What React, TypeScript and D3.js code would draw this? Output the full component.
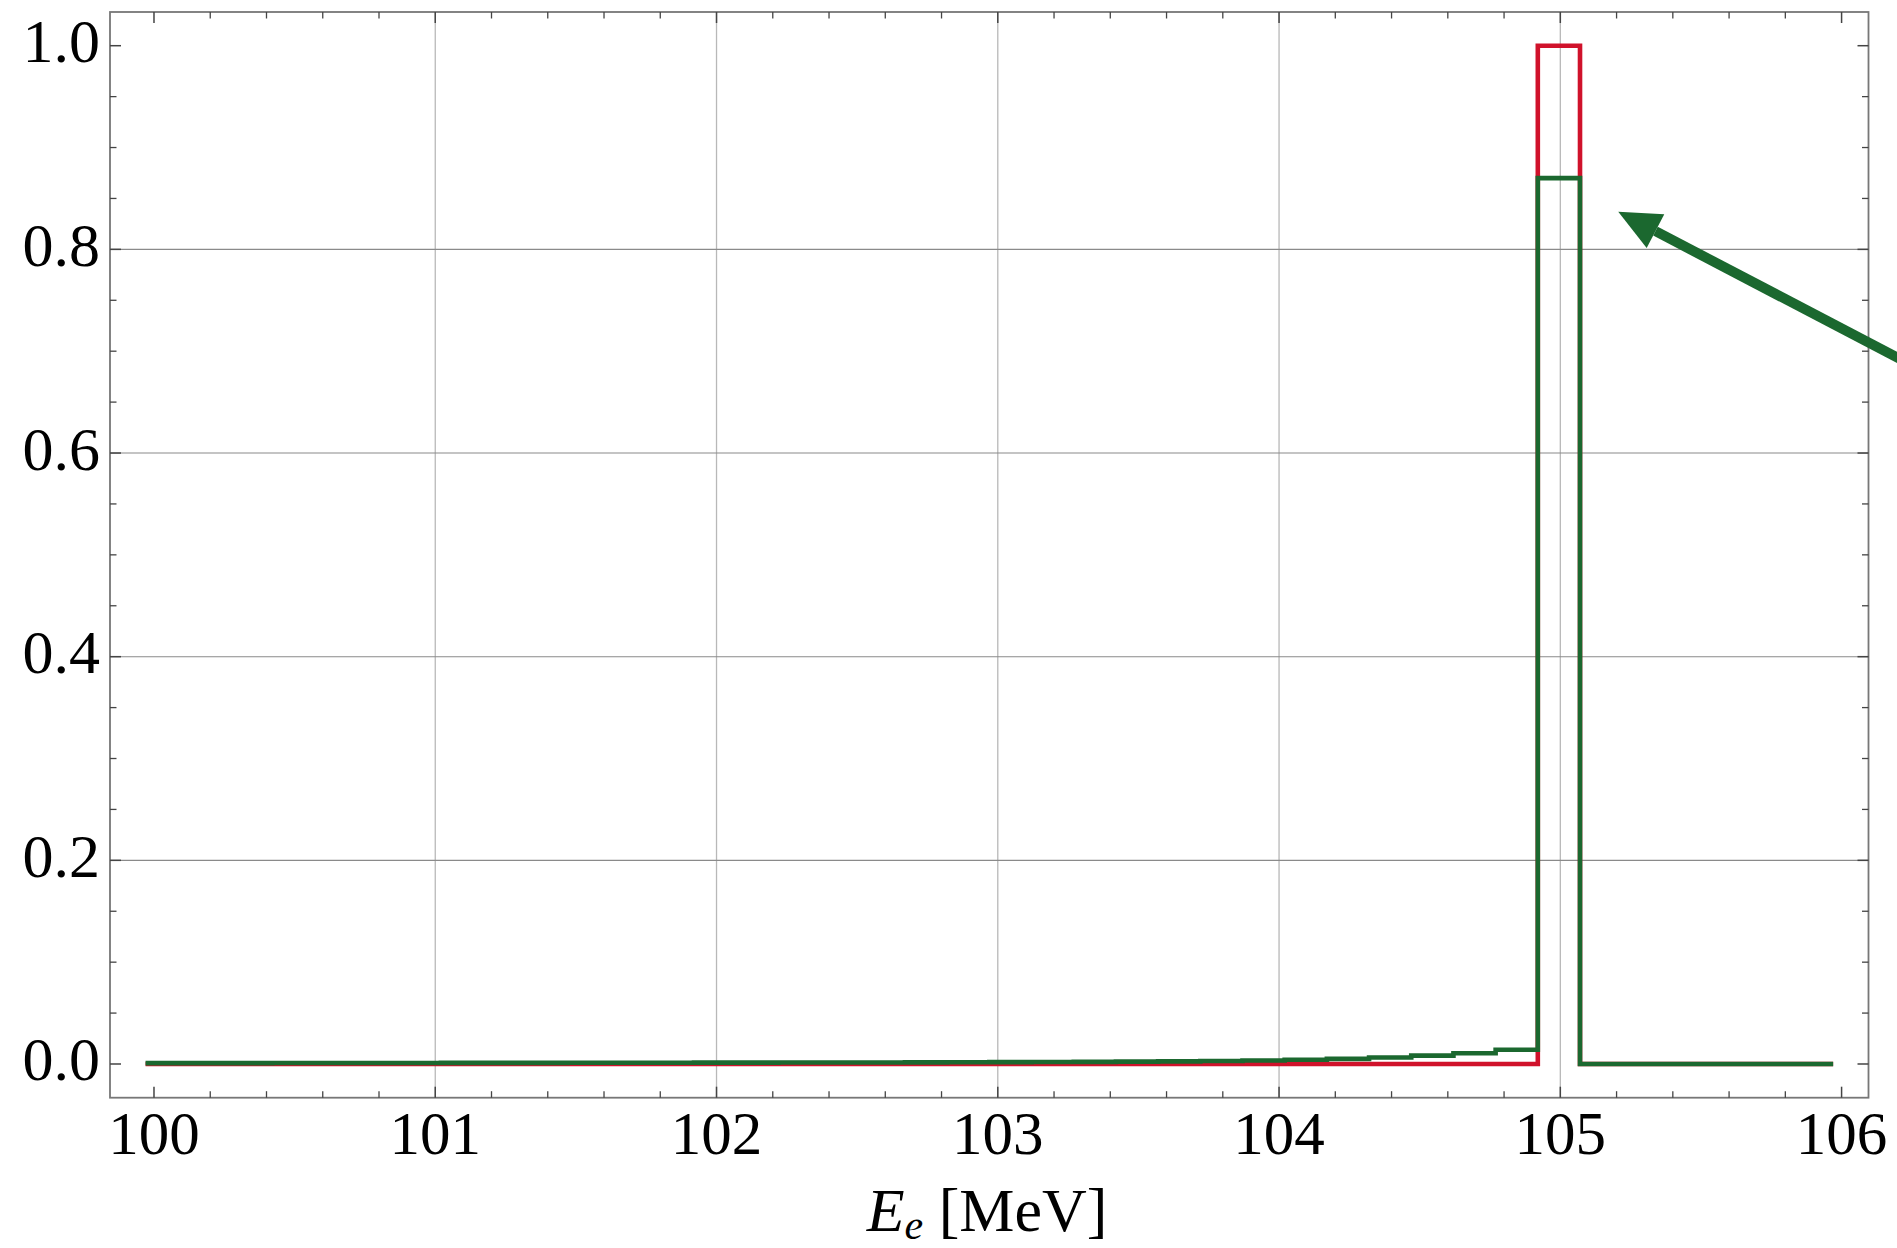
import React from "react";
import * as d3 from "d3";

// ---- data ----
const binEdges = [
  99.97, 100.12, 100.27, 100.42, 100.57, 100.72, 100.87, 101.02, 101.17, 101.32,
  101.47, 101.62, 101.77, 101.92, 102.07, 102.22, 102.37, 102.52, 102.67, 102.82,
  102.97, 103.12, 103.27, 103.42, 103.57, 103.72, 103.87, 104.02, 104.17, 104.32,
  104.47, 104.62, 104.77, 104.92, 105.07, 105.22, 105.37, 105.52, 105.67, 105.82,
  105.97,
];
const redValues = [
  0, 0, 0, 0, 0, 0, 0, 0, 0, 0,
  0, 0, 0, 0, 0, 0, 0, 0, 0, 0,
  0, 0, 0, 0, 0, 0, 0, 0, 0, 0,
  0, 0, 0, 1.0, 0, 0, 0, 0, 0, 0,
];
const greenValues = [
  0.0009, 0.0009, 0.0009, 0.001, 0.001, 0.001, 0.001, 0.0011, 0.0011, 0.0011,
  0.0012, 0.0012, 0.0012, 0.0013, 0.0013, 0.0014, 0.0014, 0.0015, 0.0016, 0.0017,
  0.0018, 0.0019, 0.0021, 0.0023, 0.0026, 0.003, 0.0035, 0.0041, 0.005, 0.0064,
  0.0082, 0.0106, 0.014, 0.87, 0, 0, 0, 0, 0, 0,
];
const xTickValues = [100, 101, 102, 103, 104, 105, 106];
const xTickLabels = ["100", "101", "102", "103", "104", "105", "106"];
const yTickValues = [0, 0.2, 0.4, 0.6, 0.8, 1.0];
const yTickLabels = ["0.0", "0.2", "0.4", "0.6", "0.8", "1.0"];
const xGridValues = [101, 102, 103, 104, 105];
const yGridValues = [0.2, 0.4, 0.6, 0.8];
const arrowTail = [106.3, 0.679];
const arrowTip = [105.206, 0.837];

const W = 1897;
const H = 1248;
const frame = { left: 110, right: 1868.5, top: 12, bottom: 1097.7 };

const RED = "#d0122b";
const GREEN = "#1b682f";
const FONT = "'Liberation Serif', 'Times New Roman', serif";

export default function App() {
  React.useEffect(() => {
    document.body.style.margin = "0";
    document.body.style.overflow = "hidden";
  }, []);

  const x = d3.scaleLinear().domain([99.8436, 106.0957]).range([frame.left, frame.right]);
  const y = d3.scaleLinear().domain([-0.0331, 1.0331]).range([frame.bottom, frame.top]);

  const stepPts = (vals: number[]) => {
    const pts: [number, number][] = vals.map((v, i) => [binEdges[i], v]);
    pts.push([binEdges[binEdges.length - 1], vals[vals.length - 1]]);
    return pts;
  };
  const line = d3
    .line<[number, number]>()
    .x((d) => x(d[0]))
    .y((d) => y(d[1]))
    .curve(d3.curveStepAfter);

  const xMinor = d3.range(100, 106.0001, 0.2).filter((v) => Math.abs(v - Math.round(v)) > 1e-6);
  const yMinor = d3.range(0, 1.0001, 0.05).filter((v) => Math.abs(v * 5 - Math.round(v * 5)) > 1e-6);

  const majorLen = 11;
  const minorLen = 6.5;
  const tickColor = "#444";

  // arrow geometry
  const tx = x(arrowTip[0]);
  const ty = y(arrowTip[1]);
  const sx = x(arrowTail[0]);
  const sy = y(arrowTail[1]);
  const ang = Math.atan2(sy - ty, sx - tx);
  const headLen = 42;
  const headHalf = 19;
  const bx = tx + Math.cos(ang) * headLen;
  const by = ty + Math.sin(ang) * headLen;
  const px = -Math.sin(ang);
  const py = Math.cos(ang);
  const headPts = [
    [tx, ty],
    [bx + px * headHalf, by + py * headHalf],
    [bx - px * headHalf, by - py * headHalf],
  ];

  return (
    <svg
      width={W}
      height={H}
      style={{ position: "absolute", left: 0, top: 0, background: "#fff" }}
    >
      <rect x={0} y={0} width={W} height={H} fill="#fff" />
      {/* grid */}
      {xGridValues.map((v) => (
        <line key={"gx" + v} x1={x(v)} x2={x(v)} y1={frame.top} y2={frame.bottom} stroke="#b8b8b8" strokeWidth={1.3} />
      ))}
      {yGridValues.map((v) => (
        <line key={"gy" + v} y1={y(v)} y2={y(v)} x1={frame.left} x2={frame.right} stroke="#8a8a8a" strokeWidth={1.1} />
      ))}

      {/* series */}
      <path d={line(stepPts(redValues)) || ""} fill="none" stroke={RED} strokeWidth={4.6} strokeLinejoin="miter" />
      <path d={line(stepPts(greenValues)) || ""} fill="none" stroke={GREEN} strokeWidth={4.6} strokeLinejoin="miter" />

      {/* frame */}
      <rect
        x={frame.left}
        y={frame.top}
        width={frame.right - frame.left}
        height={frame.bottom - frame.top}
        fill="none"
        stroke="#777"
        strokeWidth={1.8}
      />

      {/* ticks */}
      {xTickValues.map((v) => (
        <g key={"xt" + v}>
          <line x1={x(v)} x2={x(v)} y1={frame.bottom} y2={frame.bottom - majorLen} stroke={tickColor} strokeWidth={1.5} />
          <line x1={x(v)} x2={x(v)} y1={frame.top} y2={frame.top + majorLen} stroke={tickColor} strokeWidth={1.5} />
        </g>
      ))}
      {xMinor.map((v) => (
        <g key={"xm" + v}>
          <line x1={x(v)} x2={x(v)} y1={frame.bottom} y2={frame.bottom - minorLen} stroke={tickColor} strokeWidth={1.3} />
          <line x1={x(v)} x2={x(v)} y1={frame.top} y2={frame.top + minorLen} stroke={tickColor} strokeWidth={1.3} />
        </g>
      ))}
      {yTickValues.map((v) => (
        <g key={"yt" + v}>
          <line y1={y(v)} y2={y(v)} x1={frame.left} x2={frame.left + majorLen} stroke={tickColor} strokeWidth={1.5} />
          <line y1={y(v)} y2={y(v)} x1={frame.right} x2={frame.right - majorLen} stroke={tickColor} strokeWidth={1.5} />
        </g>
      ))}
      {yMinor.map((v) => (
        <g key={"ym" + v}>
          <line y1={y(v)} y2={y(v)} x1={frame.left} x2={frame.left + minorLen} stroke={tickColor} strokeWidth={1.3} />
          <line y1={y(v)} y2={y(v)} x1={frame.right} x2={frame.right - minorLen} stroke={tickColor} strokeWidth={1.3} />
        </g>
      ))}

      {/* tick labels */}
      {xTickValues.map((v, i) => (
        <text key={"xl" + v} x={x(v)} y={1154} textAnchor="middle" fontFamily={FONT} fontSize={61} fill="#000">
          {xTickLabels[i]}
        </text>
      ))}
      {yTickValues.map((v, i) => (
        <text key={"yl" + v} x={100} y={y(v) + 16.5} textAnchor="end" fontFamily={FONT} fontSize={62} fill="#000">
          {yTickLabels[i]}
        </text>
      ))}

      {/* axis label */}
      <text x={987} y={1231} textAnchor="middle" fontFamily={FONT} fontSize={62} fill="#000">
        <tspan fontStyle="italic">E</tspan>
        <tspan fontStyle="italic" fontSize={42} dy={8}>e</tspan>
        <tspan dy={-8}>{" [MeV]"}</tspan>
      </text>

      {/* arrow */}
      <line x1={sx} y1={sy} x2={bx} y2={by} stroke={GREEN} strokeWidth={10} />
      <polygon points={headPts.map((p) => p.join(",")).join(" ")} fill={GREEN} />
    </svg>
  );
}
